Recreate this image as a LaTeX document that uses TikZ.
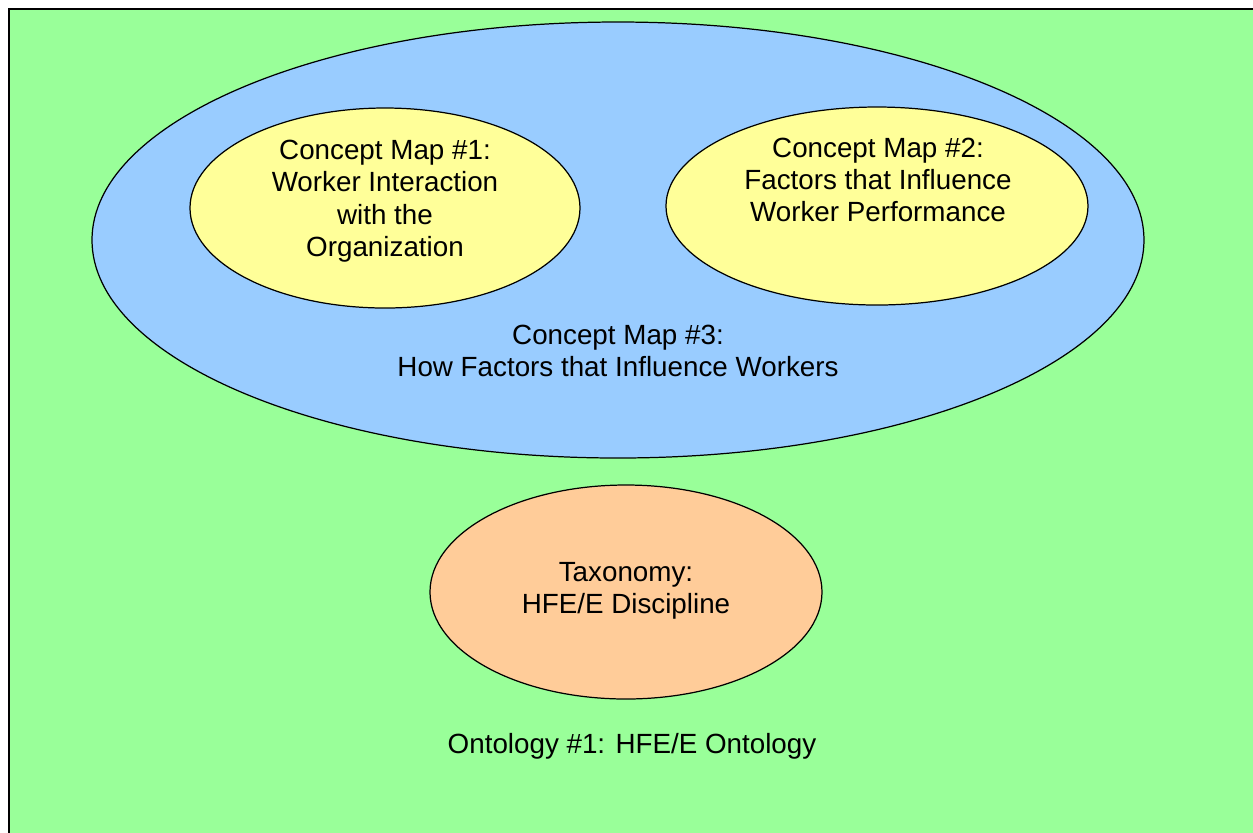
\documentclass[tikz,border=0pt]{standalone}
\usepackage{fontspec}
\setmainfont{Liberation Sans}
\usepackage{tikz}
\definecolor{ontogreen}{HTML}{99FF99}
\definecolor{mapblue}{HTML}{99CCFF}
\definecolor{mapyellow}{HTML}{FFFF99}
\definecolor{taxorange}{HTML}{FFCC99}
\tikzset{
  label text/.style={align=center, inner sep=0pt, font=\fontsize{7.9}{9.2}\selectfont},
  bubble/.style={draw=black, line width=0.35pt}
}

\begin{document}
\begin{tikzpicture}[x=0.01cm, y=-0.01cm]
		%%%%% START %%%%%
		\useasboundingbox (0, 0) rectangle (1253, 832);
		
		\draw[fill=ontogreen, line width=0.6pt] (9, 9) rectangle (1270, 845);
		
		\draw[bubble, fill=mapblue] (618, 240) ellipse (526 and 218);
		\draw[bubble, fill=mapyellow] (385, 208) ellipse (195 and 100);
		\draw[bubble, fill=mapyellow] (877, 206) ellipse (211 and 99);
		\draw[bubble, fill=taxorange] (626, 592) ellipse (196 and 107);
		
		\node[label text] (cmapone) at (385, 201) {Concept Map \#1:\\Worker Interaction\\with the\\Organization};
		\node[label text] (cmaptwo) at (878, 180) {Concept Map \#2:\\Factors that Influence\\Worker Performance};
		\node[label text] (cmapthree) at (618, 351) {Concept Map \#3:\\How Factors that Influence Workers};
		\node[label text] (taxonomy) at (626, 591) {Taxonomy:\\HFE/E Discipline};
		\node[label text] (ontology) at (632, 746) {Ontology \#1: HFE/E Ontology};
		
		%%%%% END %%%%%
	\end{tikzpicture}
\end{document}
